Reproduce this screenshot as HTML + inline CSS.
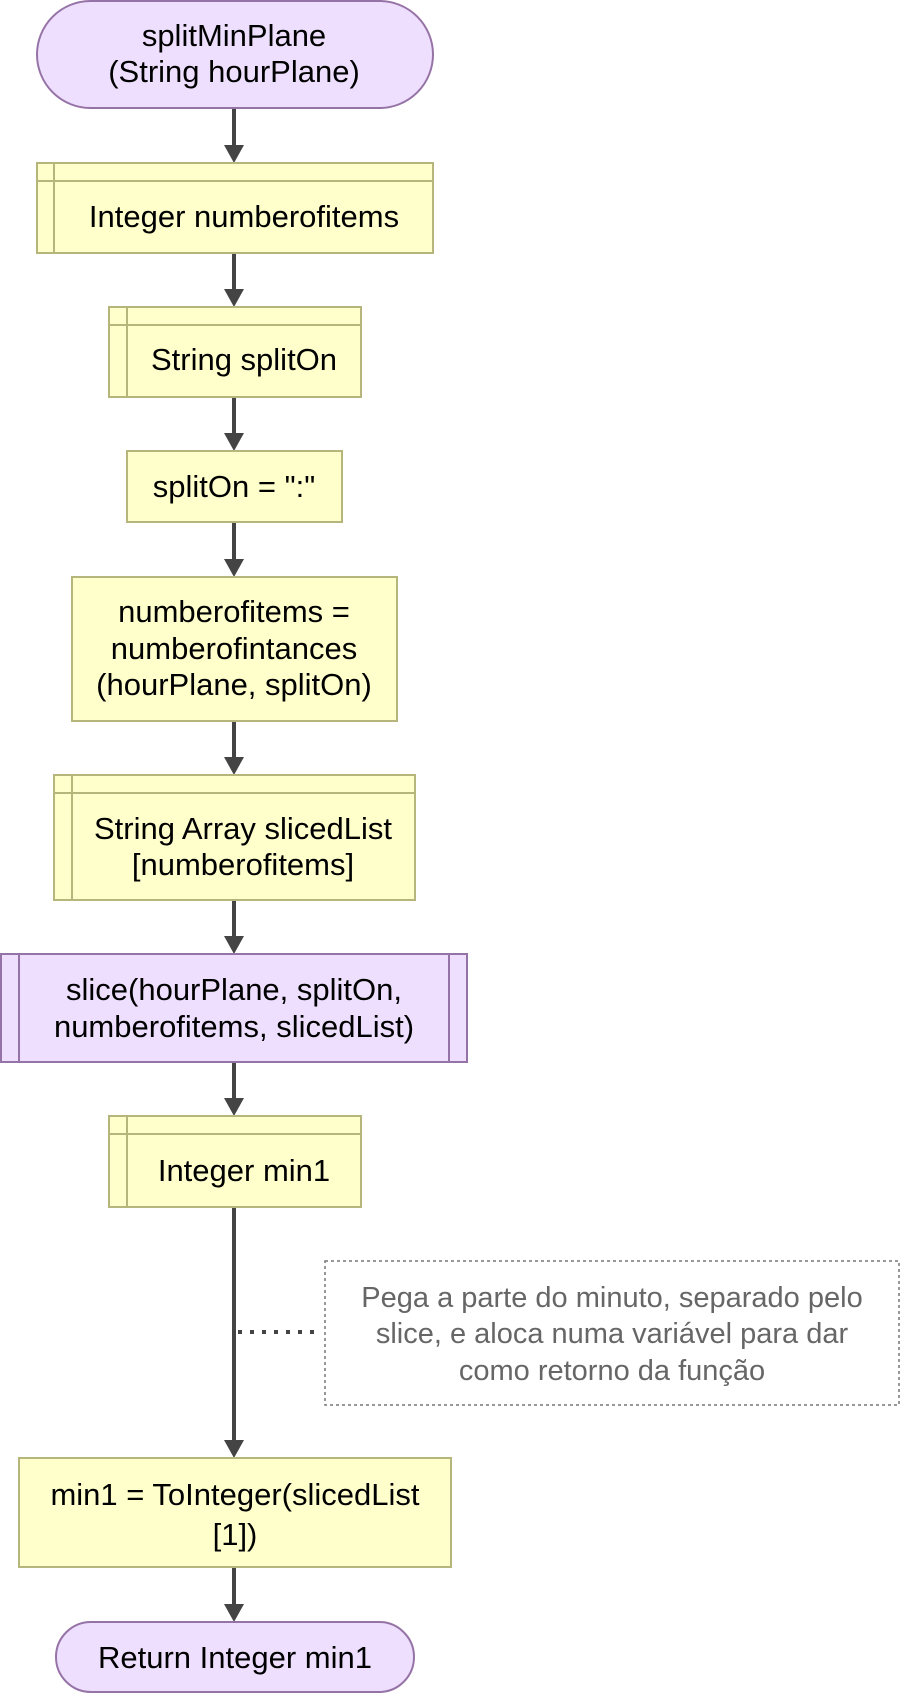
<!DOCTYPE html>
<html><head><meta charset="utf-8"><style>
html,body{margin:0;padding:0;background:#fff;}
svg{display:block;}
text{font-family:"Liberation Sans",Arial,sans-serif;font-size:31px;fill:#000;text-anchor:middle;}
.n{font-size:29px;fill:#666;}
</style></head><body>
<svg width="901" height="1693" viewBox="0 0 901 1693" xmlns="http://www.w3.org/2000/svg">
<g stroke="#444" stroke-width="4" fill="none">
<line x1="234" y1="108" x2="234" y2="148"/>
<line x1="234" y1="253" x2="234" y2="292"/>
<line x1="234" y1="397" x2="234" y2="437"/>
<line x1="234" y1="522" x2="234" y2="562"/>
<line x1="234" y1="721" x2="234" y2="760"/>
<line x1="234" y1="900" x2="234" y2="940"/>
<line x1="234" y1="1062" x2="234" y2="1102"/>
<line x1="234" y1="1207" x2="234" y2="1444"/>
<line x1="234" y1="1567" x2="234" y2="1607"/>
</g>
<g fill="#444">
<path d="M224,145 L244,145 L234,163 Z"/>
<path d="M224,289 L244,289 L234,307 Z"/>
<path d="M224,433 L244,433 L234,451 Z"/>
<path d="M224,559 L244,559 L234,577 Z"/>
<path d="M224,757 L244,757 L234,775 Z"/>
<path d="M224,936 L244,936 L234,954 Z"/>
<path d="M224,1098 L244,1098 L234,1116 Z"/>
<path d="M224,1440 L244,1440 L234,1458 Z"/>
<path d="M224,1604 L244,1604 L234,1622 Z"/>
</g>
<line x1="238" y1="1332" x2="318" y2="1332" stroke="#444" stroke-width="4" stroke-dasharray="4,8"/>
<rect x="37" y="1" width="396" height="107" rx="53.5" fill="#eddffd" stroke="#9673a6" stroke-width="2"/>
<text x="234" y="46">splitMinPlane</text>
<text x="234" y="82">(String hourPlane)</text>
<g fill="#ffffcc" stroke="#b5b57c" stroke-width="2">
<rect x="37" y="163" width="396" height="90"/>
<line x1="37" y1="181" x2="433" y2="181"/><line x1="54" y1="163" x2="54" y2="253"/>
<rect x="109" y="307" width="252" height="90"/>
<line x1="109" y1="325" x2="361" y2="325"/><line x1="127" y1="307" x2="127" y2="397"/>
<rect x="127" y="451" width="215" height="71"/>
<rect x="72" y="577" width="325" height="144"/>
<rect x="54" y="775" width="361" height="125"/>
<line x1="54" y1="793" x2="415" y2="793"/><line x1="72" y1="775" x2="72" y2="900"/>
<rect x="109" y="1116" width="252" height="91"/>
<line x1="109" y1="1134" x2="361" y2="1134"/><line x1="127" y1="1116" x2="127" y2="1207"/>
<rect x="19" y="1458" width="432" height="109"/>
</g>
<g fill="#eddffd" stroke="#9673a6" stroke-width="2">
<rect x="1" y="954" width="466" height="108"/>
<line x1="19" y1="954" x2="19" y2="1062"/><line x1="449" y1="954" x2="449" y2="1062"/>
<rect x="56" y="1622" width="358" height="70" rx="35"/>
</g>
<rect x="325" y="1261" width="574" height="144" fill="#fff" stroke="#777" stroke-width="1.5" stroke-dasharray="3,3"/>
<text x="244" y="227">Integer numberofitems</text>
<text x="244" y="370">String splitOn</text>
<text x="234" y="497">splitOn = ":"</text>
<text x="234" y="622">numberofitems =</text>
<text x="234" y="659">numberofintances</text>
<text x="234" y="695">(hourPlane, splitOn)</text>
<text x="243" y="839">String Array slicedList</text>
<text x="243" y="875">[numberofitems]</text>
<text x="234" y="1000">slice(hourPlane, splitOn,</text>
<text x="234" y="1037">numberofitems, slicedList)</text>
<text x="244" y="1181">Integer min1</text>
<text class="n" x="612" y="1307">Pega a parte do minuto, separado pelo</text>
<text class="n" x="612" y="1343">slice, e aloca numa variável para dar</text>
<text class="n" x="612" y="1380">como retorno da função</text>
<text x="235" y="1505">min1 = ToInteger(slicedList</text>
<text x="235" y="1545">[1])</text>
<text x="235" y="1668">Return Integer min1</text>
</svg>
</body></html>
